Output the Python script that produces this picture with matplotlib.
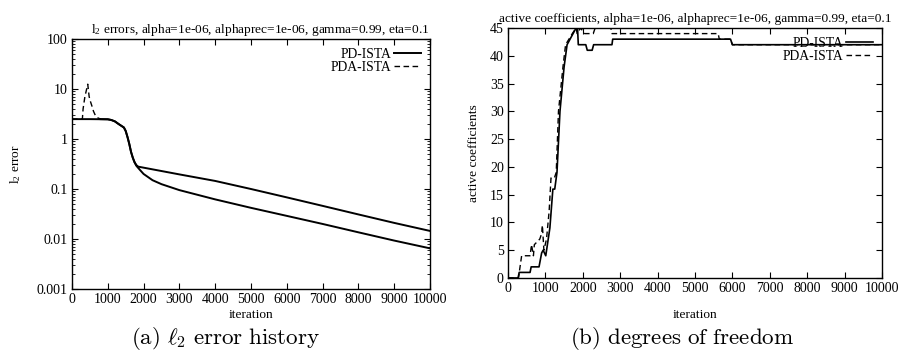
import numpy as np
import matplotlib
matplotlib.use("Agg")
import matplotlib.pyplot as plt
from matplotlib.ticker import LogLocator, FixedLocator, NullFormatter

plt.rcParams['font.family'] = ['Liberation Serif', 'DejaVu Serif']
plt.rcParams['mathtext.fontset'] = 'custom'
plt.rcParams['mathtext.rm'] = 'Liberation Serif'
plt.rcParams['mathtext.it'] = 'Liberation Serif:italic'

# (a) l2 error history
pd_err_it = [0, 500, 1000, 1100, 1200, 1300, 1450, 1500, 1550, 1600, 1650, 1700, 1750, 1800, 1850,
             3000, 4000, 5000, 6000, 7000, 8000, 9000, 10000]
pd_err = [2.5, 2.5, 2.48, 2.4, 2.25, 2.0, 1.7, 1.45, 1.1, 0.8, 0.55, 0.42, 0.34, 0.3, 0.28,
          0.196, 0.145, 0.10, 0.068, 0.046, 0.031, 0.021, 0.0145]
pda_err_it = [0, 290, 310, 360, 440, 480, 520, 560, 600, 650, 700, 800, 1000, 1100, 1200, 1300,
              1450, 1500, 1550, 1600, 1650, 1700, 1750, 1800, 1900, 2000, 2250, 2500,
              3000, 4000, 5000, 6000, 7000, 8000, 9000, 10000]
pda_err = [2.5, 2.5, 4.0, 7.0, 12.5, 7.0, 5.5, 4.5, 3.6, 3.0, 2.7, 2.5, 2.48, 2.4, 2.25, 2.0,
           1.7, 1.45, 1.1, 0.8, 0.55, 0.42, 0.34, 0.29, 0.24, 0.2, 0.15, 0.125,
           0.095, 0.062, 0.042, 0.029, 0.020, 0.0136, 0.0093, 0.0065]

# (b) active coefficients
pd_act_it = [0, 270, 300, 590, 620, 830, 900, 940, 1010, 1120, 1200, 1250, 1310, 1390, 1500,
             1580, 1660, 1740, 1820, 1860, 1880, 2080, 2120, 2250, 2290, 2780, 2800, 5950, 6000, 10000]
pd_act = [0, 0, 1, 1, 2, 2, 4.5, 5, 4, 9, 16, 16, 19, 30, 38,
          42, 43, 44, 45, 45, 42, 42, 41, 41, 42, 42, 43, 43, 42, 42]
pda_act_it = [0, 280, 365, 590, 630, 680, 705, 850, 900, 920, 960, 1030, 1100, 1150, 1240, 1290,
              1350, 1470, 1540, 1630, 1720, 1820, 1850, 1940, 2050, 2280, 2330, 2750, 2780,
              5620, 5650, 5950, 6000, 10000]
pda_act = [0, 0, 4, 4, 6, 4, 6, 7, 8, 9.5, 5, 7, 12, 18, 18, 19,
           30, 38, 42, 43, 44, 45, 44, 45, 44, 44, 45, 45, 44,
           44, 43, 43, 42, 42]

title_a = r'l$_2$ errors, alpha=1e-06, alphaprec=1e-06, gamma=0.99, eta=0.1'
title_b = 'active coefficients, alpha=1e-06, alphaprec=1e-06, gamma=0.99, eta=0.1'

fig = plt.figure(figsize=(9.01, 3.55), dpi=100)
ax1 = fig.add_axes([0.0799, 0.186, 0.3973, 0.704])
ax2 = fig.add_axes([0.5638, 0.217, 0.4151, 0.704])

# left panel
pda_it = np.array(pda_err_it)
pda_v = np.array(pda_err)
head = pda_it <= 800
tail = pda_it >= 800
ax1.plot(pd_err_it, pd_err, color='black', lw=1.4, label='PD-ISTA')
ax1.plot(pda_it[head], pda_v[head], color='black', lw=1.0, ls=(0, (4, 2.5)), label='PDA-ISTA')
ax1.plot(pda_it[tail], pda_v[tail], color='black', lw=1.4)
ax1.set_yscale('log')
ax1.set_xlim(0, 10000)
ax1.set_ylim(0.001, 100)
ax1.set_xticks(np.arange(0, 10001, 1000))
ax1.yaxis.set_major_locator(FixedLocator([0.001, 0.01, 0.1, 1, 10, 100]))
ax1.set_yticklabels(['0.001', '0.01', '0.1', '1', '10', '100'])
ax1.yaxis.set_minor_locator(LogLocator(base=10, subs=np.arange(2, 10)))
ax1.yaxis.set_minor_formatter(NullFormatter())
ax1.set_title(title_a, fontsize=9.6, pad=4, x=0.525)
ax1.set_ylabel(r'l$_2$ error', fontsize=9.6, labelpad=10)
ax1.set_xlabel('iteration', fontsize=9.6, labelpad=2)

# right panel
ax2.plot(pd_act_it, pd_act, color='black', lw=1.2, label='PD-ISTA')
ax2.plot(pda_act_it, pda_act, color='black', lw=1.0, ls=(0, (4, 2.5)), label='PDA-ISTA')
ax2.set_xlim(0, 10000)
ax2.set_ylim(0, 45)
ax2.set_xticks(np.arange(0, 10001, 1000))
ax2.set_yticks(np.arange(0, 46, 5))
ax2.set_title(title_b, fontsize=9.6, pad=4, x=0.5)
ax2.set_ylabel('active coefficients', fontsize=9.6, labelpad=7)
ax2.set_xlabel('iteration', fontsize=9.6, labelpad=10)

for ax in (ax1, ax2):
    ax.tick_params(which='major', direction='in', length=4, width=0.8, top=True, right=True,
                   labelsize=10, pad=3)
    ax.tick_params(which='minor', direction='in', length=2, width=0.6, top=False, right=True)
    for s in ax.spines.values():
        s.set_linewidth(1.0)
    ax.legend(loc='upper right', frameon=False, fontsize=9.8, markerfirst=False,
              handlelength=2.0, handletextpad=0.2, labelspacing=0.0, borderaxespad=0.25)

fig.text(0.250, 0.03, r'$\mathrm{(a)}\ \ell_2\ \mathrm{error\ history}$', ha='center',
         fontsize=16.6, math_fontfamily='cm')
fig.text(0.757, 0.03, r'$\mathrm{(b)\ degrees\ of\ freedom}$', ha='center',
         fontsize=16.6, math_fontfamily='cm')

fig.savefig('out.png', dpi=100)
